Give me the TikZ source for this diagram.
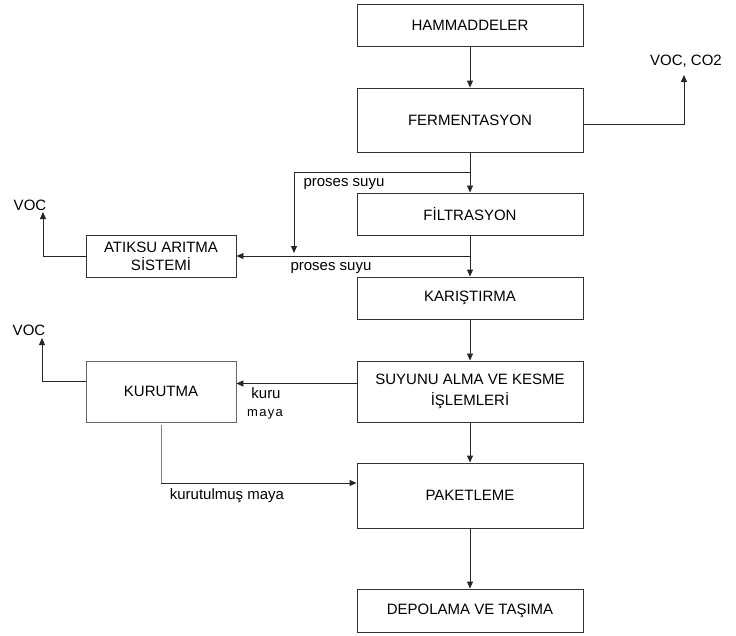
\documentclass[tikz,border=0pt]{standalone}
\usepackage{fontspec}
\setmainfont{Liberation Sans}
\usetikzlibrary{arrows.meta}

\begin{document}
\begin{tikzpicture}[x=1pt, y=-1pt,
    stage/.style={draw=black!80, line width=0.9pt, minimum width=226pt, inner sep=0pt,
                 font=\fontsize{15}{18}\selectfont, align=center},
    aux/.style={stage, minimum width=150pt},
    note/.style={font=\fontsize{15}{17}\selectfont, inner sep=0pt},
    flow/.style={draw=black!85, line width=0.9pt, -{Triangle[length=7pt,width=6pt]}},
]
\useasboundingbox (0,0) rectangle (736,635);
\node[stage, minimum height=42pt] (ham) at (470,25) {HAMMADDELER};
\node[stage, minimum height=64pt] (fer) at (470,120) {FERMENTASYON};
\node[stage, minimum height=42pt] (fil) at (470,214) {FİLTRASYON};
\node[stage, minimum height=42pt] (kar) at (470,298) {KARIŞTIRMA};
\node[stage, minimum height=61pt] (suy) at (470,391.5) {SUYUNU ALMA VE KESME\\[3pt]İŞLEMLERİ};
\node[stage, minimum height=65pt] (pak) at (470,495.5) {PAKETLEME};
\node[stage, minimum height=43pt] (dep) at (470,610.5) {DEPOLAMA VE TAŞIMA};
\node[aux, minimum height=42pt] (atk) at (161,256) {ATIKSU ARITMA\\SİSTEMİ};
\node[aux, draw=black!60, minimum height=61pt] (kur) at (161,391.5) {KURUTMA};

\node[note] (co2) at (686,61) {VOC, CO2};
\node[note] (voc1) at (30,205) {VOC};
\node[note] (voc2) at (29,330) {VOC};
\node[note] (ps1) at (344,184) {proses suyu};
\node[note] (ps2) at (331,268) {proses suyu};
\node[note] (kuru) at (266,393) {kuru};
\node[note, font=\fontsize{13}{15}\selectfont\addfontfeature{LetterSpace=10}] (maya) at (265,414) {maya};
\node[note] (kmaya) at (227,496) {kurutulmuş maya};

\coordinate (t1) at (684,75);
\coordinate (b1) at (470,172);
\coordinate (p1) at (294,253);
\coordinate (b2) at (470,256);
\coordinate (t2) at (43,212);
\coordinate (t3) at (42,338);
\coordinate (k1) at (161,483);

\draw[flow] (ham) -- (fer);
\draw[flow] (fer) -- (fil);
\draw[flow] (fil) -- (kar);
\draw[flow] (kar) -- (suy);
\draw[flow] (suy) -- (pak);
\draw[flow] (pak) -- (dep);
\draw[flow] ([yshift=-4pt]fer.east) -| (t1);
\draw[flow] (b1) -| (p1);
\draw[flow] (b2) -- (atk.east);
\draw[flow] (atk.west) -| (t2);
\draw[flow] ([yshift=8pt]suy.west) -- ([yshift=8pt]kur.east);
\draw[flow] ([yshift=10pt]kur.west) -| (t3);
\draw[black!50, line width=0.9pt] ([yshift=-3pt]kur.south) -- (k1);
\draw[flow] (k1) -- (k1 -| pak.west);
\end{tikzpicture}
\end{document}
